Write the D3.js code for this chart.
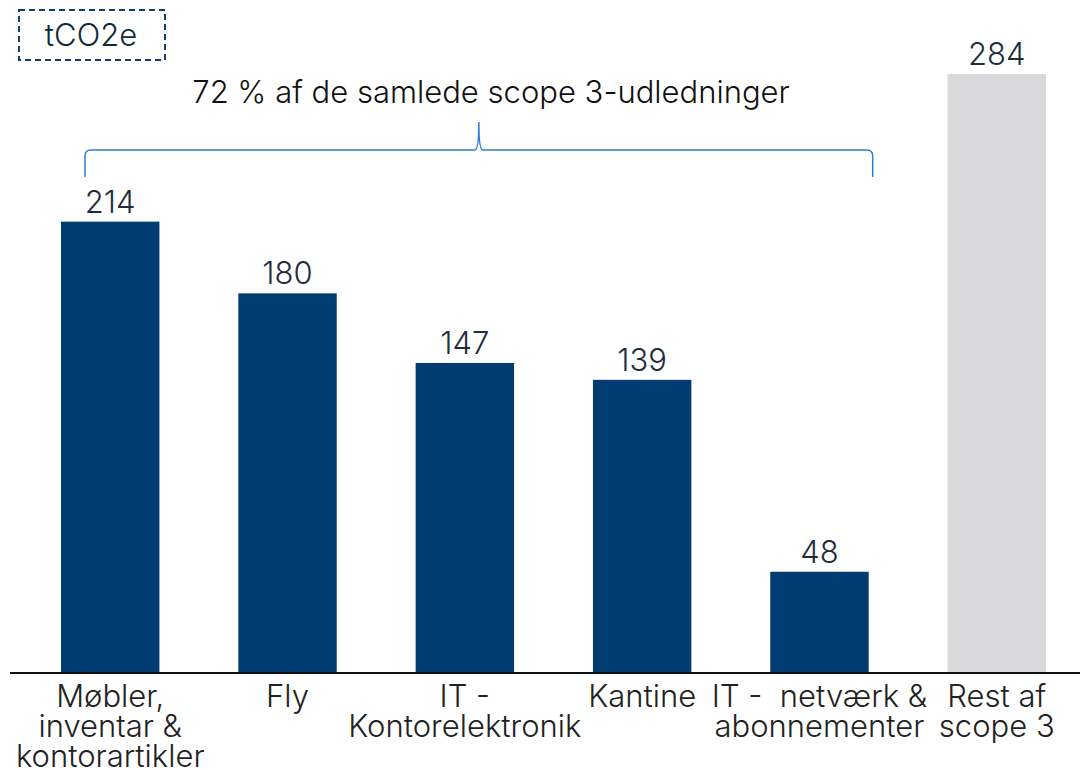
<!DOCTYPE html>
<meta charset="utf-8" />
<style>
  body { margin: 0; background: #fff; }
  text { font-family: "Inter", "Noto Sans", sans-serif; font-weight: 300; }
</style>
<svg width="1080" height="770"></svg>
<script src="https://d3js.org/d3.v7.min.js"></script>
<script>
    // data
    var categories = ["Møbler, inventar & kontorartikler", "Fly", "IT - Kontorelektronik", "Kantine", "IT - netværk & abonnementer", "Rest af scope 3"];
    var labelLines = [
        ["Møbler,", "inventar &", "kontorartikler"],
        ["Fly"],
        ["IT -", "Kontorelektronik"],
        ["Kantine"],
        ["IT -  netværk &", "abonnementer"],
        ["Rest af", "scope 3"]
    ];
    var values = [214, 180, 147, 139, 48, 284];
    var isRest = [false, false, false, false, false, true];
    var unitLabel = "tCO2e";
    var braceLabel = "72 % af de samlede scope 3-udledninger";

    var svg = d3.select("svg");
    var baseY = 673;

    var x = d3.scaleBand()
        .domain(categories)
        .range([22, 1085])
        .paddingInner(0.445)
        .paddingOuter(0.22);

    var y = d3.scaleLinear()
        .domain([0, 284])
        .range([baseY, 74]);

    // bars
    svg.append("g")
        .selectAll("rect")
        .data(categories)
        .enter()
        .append("rect")
        .attr("x", function(d) { return x(d); })
        .attr("y", function(d, i) { return y(values[i]); })
        .attr("width", x.bandwidth())
        .attr("height", function(d, i) { return baseY - y(values[i]); })
        .attr("fill", function(d, i) { return isRest[i] ? "#d9d9db" : "#003b71"; });

    // value labels
    svg.append("g")
        .selectAll("text")
        .data(categories)
        .enter()
        .append("text")
        .attr("x", function(d) { return x(d) + x.bandwidth() / 2; })
        .attr("y", function(d, i) { return y(values[i]) - 9; })
        .attr("text-anchor", "middle")
        .attr("font-size", 31)
        .attr("fill", "#1e2d3e")
        .text(function(d, i) { return values[i]; });

    // axis line
    svg.append("line")
        .attr("x1", 10).attr("x2", 1080)
        .attr("y1", baseY).attr("y2", baseY)
        .attr("stroke", "#111")
        .attr("stroke-width", 2);

    // category labels
    var lab = svg.append("g")
        .selectAll("text")
        .data(categories)
        .enter()
        .append("text")
        .attr("text-anchor", "middle")
        .attr("font-size", 31)
        .attr("fill", "#222")
        .attr("x", function(d) { return x(d) + x.bandwidth() / 2; });
    lab.each(function(d, i) {
        var t = d3.select(this);
        labelLines[i].forEach(function(line, j) {
            t.append("tspan")
                .attr("x", x(d) + x.bandwidth() / 2)
                .attr("y", 707 + j * 30)
                .attr("xml:space", "preserve")
                .text(line);
        });
    });

    // unit box
    svg.append("rect")
        .attr("x", 19).attr("y", 10)
        .attr("width", 146).attr("height", 50)
        .attr("fill", "none")
        .attr("stroke", "#0f3d6e")
        .attr("stroke-width", 2)
        .attr("stroke-dasharray", "6,4");
    svg.append("text")
        .attr("x", 91).attr("y", 46)
        .attr("text-anchor", "middle")
        .attr("font-size", 31)
        .attr("fill", "#0f2a3a")
        .text(unitLabel);

    // brace over first five bars
    var bx0 = x(categories[0]) + 24, bx1 = x(categories[4]) + x.bandwidth() + 4;
    var bm = (bx0 + bx1) / 2, braceTop = 150, braceBot = 177, braceTip = 122;
    var r = 6;
    var path = d3.path();
    path.moveTo(bx0, braceBot);
    path.lineTo(bx0, braceTop + r);
    path.quadraticCurveTo(bx0, braceTop, bx0 + r, braceTop);
    path.lineTo(bm - 4, braceTop);
    path.quadraticCurveTo(bm, braceTop, bm, braceTip);
    path.quadraticCurveTo(bm, braceTop, bm + 4, braceTop);
    path.lineTo(bx1 - r, braceTop);
    path.quadraticCurveTo(bx1, braceTop, bx1, braceTop + r);
    path.lineTo(bx1, braceBot);
    svg.append("path")
        .attr("d", path.toString())
        .attr("fill", "none")
        .attr("stroke", "#2a7fd4")
        .attr("stroke-width", 1.5);

    svg.append("text")
        .attr("x", 491).attr("y", 103)
        .attr("text-anchor", "middle")
        .attr("font-size", 31)
        .attr("fill", "#111")
        .text(braceLabel);
</script>
